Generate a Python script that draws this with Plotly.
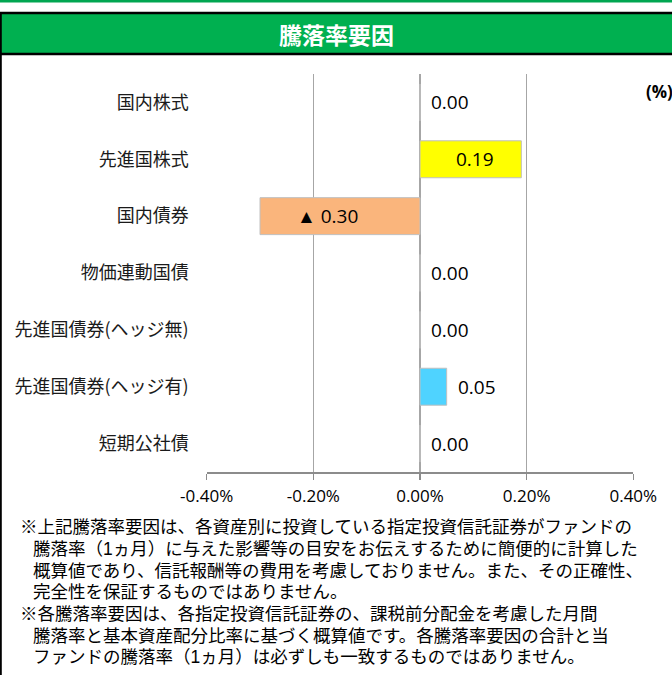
import plotly.graph_objects as go

# ---- data ----
categories = ["国内株式", "先進国株式", "国内債券", "物価連動国債",
              "先進国債券(ヘッジ無)", "先進国債券(ヘッジ有)", "短期公社債"]
values = [0.00, 0.19, -0.30, 0.00, 0.00, 0.05, 0.00]
bar_colors = ["#FFFF00", "#FFFF00", "#FAB57C", "#FAB57C", "#4FD3FF", "#4FD3FF", "#BFBFBF"]
x_ticks = [-0.4, -0.2, 0.0, 0.2, 0.4]
x_ticktext = [f"{v:.2f}%" for v in x_ticks]
title_text = "騰落率要因"
unit_text = "(%)"
notes = [
    "※上記騰落率要因は、各資産別に投資している指定投資信託証券がファンドの",
    "騰落率（1ヵ月）に与えた影響等の目安をお伝えするために簡便的に計算した",
    "概算値であり、信託報酬等の費用を考慮しておりません。また、その正確性、",
    "完全性を保証するものではありません。",
    "※各騰落率要因は、各指定投資信託証券の、課税前分配金を考慮した月間",
    "騰落率と基本資産配分比率に基づく概算値です。各騰落率要因の合計と当",
    "ファンドの騰落率（1ヵ月）は必ずしも一致するものではありません。",
]

W, H = 672, 675
px = lambda x: x / W
py = lambda y: 1 - y / H

JP = "Noto Sans CJK JP"
NOTE_FONT = "Liberation Sans, Noto Sans CJK JP"
NUM = "Open Sans"

fig = go.Figure()
fig.add_trace(go.Bar(
    x=values, y=categories, orientation="h", width=0.65,
    marker=dict(color=bar_colors, line=dict(color="#BFBFBF", width=1)),
    hoverinfo="skip", showlegend=False,
))

# data labels
annotations = []
for c, v in zip(categories, values):
    txt = f"▲ {abs(v):.2f}" if v < 0 else f"{v:.2f}"
    if abs(v) >= 0.1:
        annotations.append(dict(x=v / 2, y=c, xref="x", yref="y", text=txt, showarrow=False,
                                xanchor="center", xshift=(4 if v > 0 else -13),
                                font=dict(family=NUM, size=19, color="#000")))
    else:
        annotations.append(dict(x=max(v, 0), y=c, xref="x", yref="y", text=txt, showarrow=False,
                                xanchor="left", xshift=9,
                                font=dict(family=NUM, size=19, color="#000")))

# title
annotations.append(dict(x=0.5, y=py(34), xref="paper", yref="paper", text=f"<b>{title_text}</b>",
                        showarrow=False, xanchor="center", yanchor="middle",
                        font=dict(family=JP, size=23, color="white")))
# unit
annotations.append(dict(x=px(644), y=py(91), xref="paper", yref="paper", text=f"<b>{unit_text}</b>",
                        showarrow=False, xanchor="left", yanchor="middle",
                        font=dict(family=NUM, size=17, color="#000")))
# notes
line_y = [527, 549, 571, 592, 614, 636, 657]
for t, yy in zip(notes, line_y):
    x0 = 18 if t.startswith("※") else 31
    annotations.append(dict(x=px(x0), y=py(yy), xref="paper", yref="paper", text=t,
                            showarrow=False, xanchor="left", yanchor="middle",
                            font=dict(family=NOTE_FONT, size=17.5, color="#000")))

shapes = [
    # top thin green rule
    dict(type="rect", xref="paper", yref="paper", x0=0, x1=1, y0=py(0), y1=py(2.5),
         fillcolor="#00A651", line=dict(width=0), layer="above"),
    # header band
    dict(type="rect", xref="paper", yref="paper", x0=0, x1=1, y0=py(13), y1=py(54),
         fillcolor="#00B050", line=dict(width=0), layer="below"),
    dict(type="line", xref="paper", yref="paper", x0=0, x1=1, y0=py(13), y1=py(13),
         line=dict(color="#000", width=2.5)),
    dict(type="line", xref="paper", yref="paper", x0=0, x1=1, y0=py(54), y1=py(54),
         line=dict(color="#000", width=2.5)),
    # left border
    dict(type="line", xref="paper", yref="paper", x0=px(0.8), x1=px(0.8), y0=py(12), y1=0,
         line=dict(color="#000", width=2)),
]

x0p, x1p = 206.7 / W, 633.3 / W
y_dom = [(H - 472) / H, (H - 74) / H]
zero_pos = 420 / W

yaxis_common = dict(type="category", categoryorder="array", categoryarray=categories,
                    range=[len(categories) - 0.5, -0.5], domain=y_dom, fixedrange=True)

fig.update_layout(
    width=W, height=H,
    margin=dict(l=0, r=0, t=0, b=0),
    paper_bgcolor="white", plot_bgcolor="white",
    showlegend=False,
    bargap=0.35,
    xaxis=dict(domain=[x0p, x1p], range=[-0.4, 0.4], tickmode="array", tickvals=x_ticks,
               ticktext=x_ticktext, showgrid=True, gridcolor="#A6A6A6", gridwidth=1.5,
               zeroline=False, showline=True, linecolor="#8C8C8C", linewidth=2,
               ticks="outside", ticklen=6, tickwidth=1.5, tickcolor="#8C8C8C",
               tickfont=dict(family=NUM, size=17, color="#000"), automargin=False,
               ticklabelstandoff=2, fixedrange=True),
    yaxis=dict(**yaxis_common, showgrid=False, zeroline=False, showline=False, ticks="",
               tickfont=dict(family=JP, size=18, color="#1A1A1A"), ticklabelstandoff=17,
               automargin=False),
    yaxis2=dict(**yaxis_common, overlaying="y", anchor="free", position=zero_pos,
                showgrid=False, zeroline=False, showline=True, linecolor="#808080", linewidth=2.5,
                ticks="outside", tickson="boundaries", ticklen=6, tickwidth=1.5, tickcolor="#808080",
                showticklabels=False, automargin=False),
    yaxis3=dict(**yaxis_common, overlaying="y", anchor="free", position=zero_pos,
                showgrid=False, zeroline=False, showline=False,
                ticks="inside", tickson="boundaries", ticklen=6, tickwidth=1.5, tickcolor="#808080",
                showticklabels=False, automargin=False),
    shapes=shapes,
    annotations=annotations,
)

fig.write_html("out.html", config={"displayModeBar": False, "staticPlot": True},
               post_script="document.body.style.margin='0px';document.body.style.overflow='hidden';")
